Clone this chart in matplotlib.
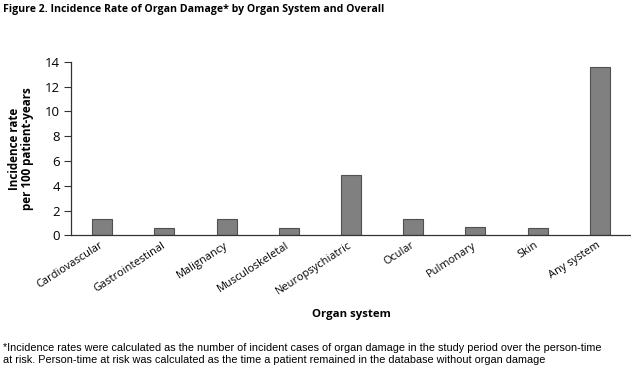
import matplotlib.pyplot as plt
from matplotlib import font_manager

# values
organ_systems = ['Cardiovascular', 'Gastrointestinal', 'Malignancy',
                 'Musculoskeletal', 'Neuropsychiatric', 'Ocular',
                 'Pulmonary', 'Skin', 'Any system']
incidence_rate = [1.3, 0.6, 1.3, 0.6, 4.9, 1.3, 0.7, 0.6, 13.6]
y_ticks = [0, 2, 4, 6, 8, 10, 12, 14]

title = 'Figure 2. Incidence Rate of Organ Damage* by Organ System and Overall'
footnote = ('*Incidence rates were calculated as the number of incident cases of '
            'organ damage in the study period over the person-time\n'
            'at risk. Person-time at risk was calculated as the time a patient '
            'remained in the database without organ damage')

installed = {f.name for f in font_manager.fontManager.ttflist}
narrow = 'Liberation Sans Narrow' if 'Liberation Sans Narrow' in installed else 'Liberation Sans'

plt.rcParams['font.family'] = ['Open Sans', 'DejaVu Sans']

fig = plt.figure(figsize=(6.31, 3.68), dpi=100)
ax = fig.add_axes([0.1125, 0.3606, 0.8875, 0.4717])

x = range(len(organ_systems))
ax.bar(x, incidence_rate, width=0.32, color='#808080',
       edgecolor='#505050', linewidth=0.8)

ax.set_xlim(-0.5, len(organ_systems) - 0.5)
ax.set_ylim(0, 14)
ax.set_yticks(y_ticks)
ax.set_xticks(list(x))
ax.set_xticklabels(organ_systems, rotation=33, ha='right', va='center',
                   rotation_mode='anchor', fontsize=7.9)
ax.tick_params(axis='x', length=0, pad=6.5)
ax.tick_params(axis='y', length=5, width=0.8, color='#333333',
               labelsize=9.5, pad=3)

for side in ['top', 'right']:
    ax.spines[side].set_visible(False)
for side in ['left', 'bottom']:
    ax.spines[side].set_color('#333333')
    ax.spines[side].set_linewidth(0.9)

ax.set_ylabel('Incidence rate\nper 100 patient-years', fontsize=8.4,
              fontweight='bold', linespacing=1.05)
ax.yaxis.set_label_coords(-0.066, 0.5)
ax.set_xlabel('Organ system', fontsize=8.2, fontweight='bold')
ax.xaxis.set_label_coords(0.5, -0.425)

fig.text(0.004, 0.99, title, fontsize=7.6, fontweight='bold',
         ha='left', va='top')
fig.text(0.004, 0.008, footnote, fontsize=7.8, family=[narrow, 'DejaVu Sans'],
         ha='left', va='bottom', linespacing=1.25)

fig.savefig('out.png', dpi=100)
